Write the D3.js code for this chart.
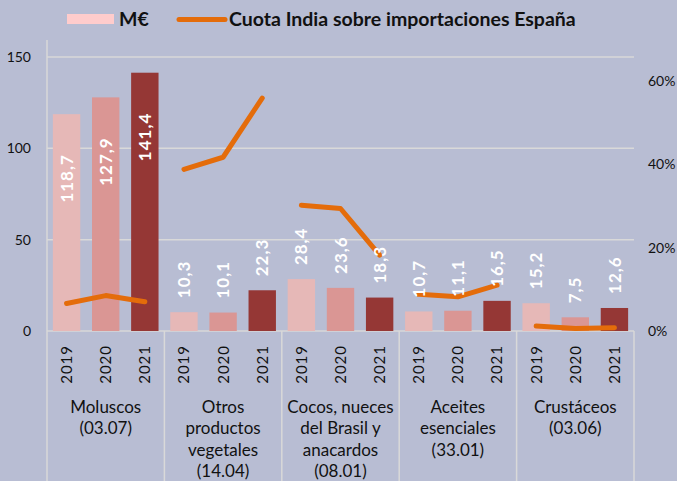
<!DOCTYPE html>
<html>
<head>
<meta charset="utf-8">
<script src="https://cdn.jsdelivr.net/npm/d3@7"></script>
<style>
  body { margin: 0; background: #B8BDD3; }
  #chart { width: 677px; height: 481px; }
  text { font-family: Lato, "Open Sans", sans-serif; }
</style>
</head>
<body>
<div id="chart"></div>
<script>
// categories and years
var categories = [
  ["Moluscos", "(03.07)"],
  ["Otros", "productos", "vegetales", "(14.04)"],
  ["Cocos, nueces", "del Brasil y", "anacardos", "(08.01)"],
  ["Aceites", "esenciales", "(33.01)"],
  ["Crustáceos", "(03.06)"]
];
var years = ["2019", "2020", "2021"];

// M€ per category, per year
var values = [
  [118.7, 127.9, 141.4],
  [10.3, 10.1, 22.3],
  [28.4, 23.6, 18.3],
  [10.7, 11.1, 16.5],
  [15.2, 7.5, 12.6]
];

// India share of Spain imports (%)
var share = [
  [6.6, 8.5, 7.0],
  [38.8, 41.7, 55.9],
  [30.2, 29.4, 18.2],
  [8.8, 8.2, 11.0],
  [1.2, 0.6, 0.8]
];

var leftTicks = [0, 50, 100, 150];
var rightTicks = [0, 20, 40, 60];

var width = 677, height = 481;
var margin = {top: 57, left: 47, right: 634, bottom: 331};
var yearColors = ["#E6B8B7", "#DA9694", "#953735"];
var gridColor = "#D9D9D9";
var orange = "#E46C0A";

var svg = d3.select("#chart")
  .append("svg")
  .attr("width", width)
  .attr("height", height);

var xScale = d3.scaleBand()
  .domain(d3.range(categories.length))
  .range([margin.left, margin.right])
  .padding(0);

var xInner = d3.scaleBand()
  .domain(years)
  .range([0, xScale.bandwidth()])
  .padding(0.3)
  .paddingOuter(0.15);

var yScale = d3.scaleLinear()
  .domain([0, 150])
  .range([margin.bottom, margin.top]);

var y2Scale = d3.scaleLinear()
  .domain([0, 60])
  .range([margin.bottom, 81]);

// grid lines
svg.selectAll(".grid")
  .data(leftTicks.filter(function(d) { return d > 0; }))
  .enter()
  .append("line")
  .attr("x1", margin.left)
  .attr("x2", margin.right)
  .attr("y1", function(d) { return yScale(d); })
  .attr("y2", function(d) { return yScale(d); })
  .attr("stroke", gridColor)
  .attr("stroke-width", 1.5);

// left tick labels
svg.selectAll(".ltick")
  .data(leftTicks)
  .enter()
  .append("text")
  .attr("x", 31)
  .attr("y", function(d) { return yScale(d); })
  .attr("dy", "0.35em")
  .attr("text-anchor", "end")
  .attr("font-size", 14)
  .attr("fill", "#111")
  .text(function(d) { return d; });

// right tick labels
svg.selectAll(".rtick")
  .data(rightTicks)
  .enter()
  .append("text")
  .attr("x", 648)
  .attr("y", function(d) { return y2Scale(d); })
  .attr("dy", "0.35em")
  .attr("text-anchor", "start")
  .attr("font-size", 14)
  .attr("fill", "#111")
  .text(function(d) { return d + "%"; });

// axis lines and group separators
svg.append("line")
  .attr("x1", margin.left).attr("x2", margin.left)
  .attr("y1", 40).attr("y2", height)
  .attr("stroke", gridColor).attr("stroke-width", 1.5);

svg.append("line")
  .attr("x1", margin.left).attr("x2", margin.right)
  .attr("y1", margin.bottom).attr("y2", margin.bottom)
  .attr("stroke", gridColor).attr("stroke-width", 1.5);

svg.selectAll(".sep")
  .data(d3.range(1, categories.length + 1))
  .enter()
  .append("line")
  .attr("x1", function(d) { return margin.left + d * xScale.bandwidth(); })
  .attr("x2", function(d) { return margin.left + d * xScale.bandwidth(); })
  .attr("y1", margin.bottom)
  .attr("y2", height)
  .attr("stroke", gridColor)
  .attr("stroke-width", 1.5);

// bars
var groups = svg.selectAll(".group")
  .data(values)
  .enter()
  .append("g")
  .attr("transform", function(d, i) { return "translate(" + xScale(i) + ",0)"; });

groups.selectAll("rect")
  .data(function(d) { return d; })
  .enter()
  .append("rect")
  .attr("x", function(d, j) { return xInner(years[j]); })
  .attr("y", function(d) { return yScale(d); })
  .attr("width", xInner.bandwidth())
  .attr("height", function(d) { return margin.bottom - yScale(d); })
  .attr("fill", function(d, j) { return yearColors[j]; });

// share lines (one per category)
var line = d3.line()
  .x(function(d, j) { return xInner(years[j]) + xInner.bandwidth() / 2; })
  .y(function(d) { return y2Scale(d); });

groups.append("path")
  .datum(function(d, i) { return share[i]; })
  .attr("d", line)
  .attr("fill", "none")
  .attr("stroke", orange)
  .attr("stroke-width", 5)
  .attr("stroke-linecap", "round")
  .attr("stroke-linejoin", "round");

// value labels
groups.selectAll(".val")
  .data(function(d) { return d; })
  .enter()
  .append("text")
  .attr("transform", function(d, j) {
    var x = xInner(years[j]) + xInner.bandwidth() / 2;
    var y = d > 100 ? yScale(d) + 40 : yScale(d) - 14;
    return "translate(" + x + "," + y + ")rotate(-90)";
  })
  .attr("text-anchor", function(d) { return d > 100 ? "end" : "start"; })
  .attr("dy", "0.36em")
  .attr("font-size", 17)
  .attr("font-weight", "bold")
  .attr("letter-spacing", 1)
  .attr("fill", "#fff")
  .text(function(d) { return d3.format(".1f")(d).replace(".", ","); });

// year labels
groups.selectAll(".year")
  .data(years)
  .enter()
  .append("text")
  .attr("transform", function(d) {
    var x = xInner(d) + xInner.bandwidth() / 2;
    return "translate(" + x + ",345)rotate(-90)";
  })
  .attr("text-anchor", "end")
  .attr("dy", "0.36em")
  .attr("font-size", 15)
  .attr("letter-spacing", 1)
  .attr("fill", "#111")
  .text(function(d) { return d; });

// category labels
groups.append("text")
  .attr("x", xScale.bandwidth() / 2)
  .attr("y", 407)
  .attr("text-anchor", "middle")
  .attr("font-size", 17)
  .attr("fill", "#111")
  .selectAll("tspan")
  .data(function(d, i) { return categories[i]; })
  .enter()
  .append("tspan")
  .attr("x", xScale.bandwidth() / 2)
  .attr("dy", function(d, k) { return k === 0 ? "0.35em" : 21.5; })
  .text(function(d) { return d; });

// legend
var legend = svg.append("g");
legend.append("rect")
  .attr("x", 67).attr("y", 14)
  .attr("width", 47).attr("height", 10)
  .attr("fill", "#FFCCCC");
legend.append("text")
  .attr("x", 119).attr("y", 26)
  .attr("font-size", 19.5).attr("font-weight", "bold")
  .attr("fill", "#111")
  .text("M€");
legend.append("line")
  .attr("x1", 179).attr("x2", 225)
  .attr("y1", 19.5).attr("y2", 19.5)
  .attr("stroke", orange).attr("stroke-width", 5)
  .attr("stroke-linecap", "round");
legend.append("text")
  .attr("x", 229).attr("y", 26)
  .attr("font-size", 19.5).attr("font-weight", "bold")
  .attr("fill", "#111")
  .text("Cuota India sobre importaciones España");
</script>
</body>
</html>
